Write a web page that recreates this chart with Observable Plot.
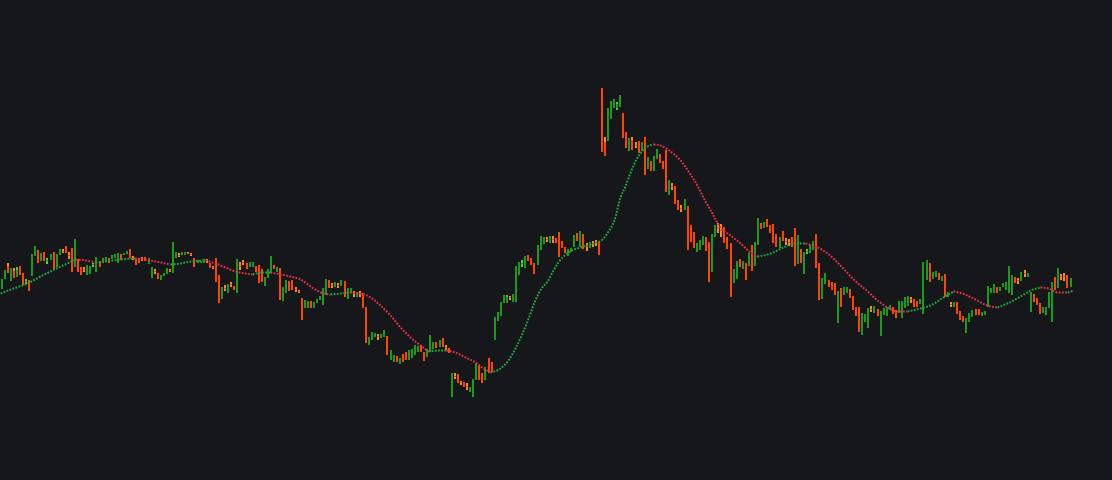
<!DOCTYPE html>
<html><head><meta charset="utf-8">
<script src="https://cdn.jsdelivr.net/npm/d3@7"></script>
<script src="https://cdn.jsdelivr.net/npm/@observablehq/plot@0.6"></script>
<style>html,body{margin:0;padding:0;background:#16171b;overflow:hidden}</style>
</head><body><div id="chart"></div>
<script>
const open = [
191,201,214,199,209,203,214,207,198,200,
204,224,230,219,228,219,220,228,213,225,
229,234,225,232,213,221,213,211,205,206,
215,208,219,217,219,222,221,222,217,226,
225,226,231,222,222,222,222,223,216,202,
209,207,200,204,206,210,207,222,225,225,
225,227,226,222,217,217,217,220,217,213,
222,205,181,192,187,196,194,187,214,218,
217,213,213,214,215,211,194,202,207,215,
208,212,179,187,199,200,191,189,182,172,
172,179,172,177,180,175,185,200,195,193,
195,194,199,181,187,187,183,187,187,173,
135,140,143,144,142,143,144,120,118,124,
116,126,128,120,122,125,128,135,128,123,
128,131,138,133,142,133,132,83,104,106,
98,98,94,88,83,100,114,107,100,122,
118,140,159,164,177,177,183,178,178,205,
216,212,225,222,217,215,230,236,241,237,
241,242,248,239,233,224,228,233,247,233,
246,234,232,237,238,238,392,338,339,361,
372,372,373,367,348,329,340,335,339,329,
343,311,319,309,321,326,319,330,285,294,
294,280,272,270,274,255,248,228,230,235,
243,238,208,243,253,250,253,243,237,197,
201,221,211,217,214,235,214,235,257,252,
261,255,256,246,232,249,239,238,243,252,
216,231,206,228,227,230,246,217,181,196,
200,198,197,157,192,185,187,191,184,173,
173,145,158,152,171,167,171,144,165,164,
170,173,170,167,162,172,174,181,181,179,
176,166,200,217,201,203,207,199,206,183,
176,173,178,169,164,147,158,163,171,171,
164,165,173,187,187,193,189,193,190,187,
185,203,200,199,207,203,168,186,182,177,
167,165,172,158,203,192,204,204,205,193];
const high = [
201,210,217,212,212,213,214,207,201,200,
226,234,230,227,228,222,226,228,226,231,
231,234,228,232,241,221,213,213,215,214,
217,223,219,222,223,222,225,226,227,226,
227,229,231,224,222,222,223,223,222,213,
211,207,205,207,212,211,238,228,227,228,
228,228,227,222,220,219,221,221,217,214,
222,205,193,195,196,198,194,221,218,220,
217,218,218,214,215,211,203,211,224,215,
213,212,193,200,199,200,193,190,182,180,
179,179,178,181,184,192,201,200,197,198,
197,200,199,192,192,189,188,189,187,173,
143,148,147,146,146,150,144,130,125,124,
122,126,128,130,131,135,134,135,128,131,
145,138,138,140,142,135,132,107,107,106,
99,98,97,93,101,117,114,107,113,122,
118,163,168,178,185,185,184,186,214,218,
220,224,225,222,217,235,244,243,243,244,
244,242,248,239,233,231,232,245,247,249,
246,237,238,239,240,238,392,343,372,379,
381,378,385,367,348,342,343,338,339,338,
343,323,319,324,331,326,319,330,300,297,
294,280,275,281,274,255,248,237,240,244,
243,238,246,255,257,256,253,243,237,211,
219,221,219,217,227,235,238,262,257,258,
261,255,256,246,243,249,242,241,243,252,
245,231,228,231,235,239,246,217,202,207,
200,198,197,189,192,193,193,191,184,173,
173,167,166,172,174,174,171,169,172,173,
175,173,170,179,179,183,184,183,181,179,
181,218,220,217,208,209,207,204,206,188,
178,178,178,169,164,162,167,170,171,171,
168,169,194,192,196,193,193,197,198,214,
205,203,202,208,210,207,188,186,182,177,
173,173,188,198,203,212,206,207,205,202];
const low = [
191,201,207,199,202,203,205,195,196,189,
204,224,217,219,219,216,220,211,213,225,
227,227,221,208,213,208,205,208,205,206,
213,208,213,217,219,217,221,222,217,220,
225,226,222,220,215,217,219,219,216,202,
206,201,200,204,206,208,207,222,223,225,
225,226,224,213,217,217,217,217,212,211,
198,177,181,189,187,193,190,187,210,215,
211,213,213,208,197,198,194,202,207,211,
208,180,179,187,189,190,188,187,160,172,
172,172,172,177,180,175,185,192,192,193,
192,194,183,181,187,183,183,183,172,137,
135,140,143,140,142,143,125,120,118,118,
116,118,120,120,122,125,128,128,119,123,
128,131,132,133,133,130,127,83,101,97,
95,93,90,88,83,100,100,97,100,107,
108,140,159,164,177,177,180,178,178,205,
213,212,219,215,206,215,230,236,238,237,
237,237,223,232,227,224,228,233,239,233,
231,229,232,233,234,225,328,324,339,361,
372,370,373,342,332,329,330,332,327,329,
305,311,309,309,321,317,311,288,285,290,
276,270,268,270,230,238,232,228,230,235,
229,198,208,243,247,243,237,231,183,197,
201,213,211,200,214,209,214,235,251,252,
253,247,237,233,232,239,235,234,233,214,
216,217,206,226,227,230,212,180,181,196,
193,190,185,157,173,185,187,182,170,164,
148,145,158,152,168,167,164,144,165,164,
170,166,162,167,162,172,174,177,173,173,
176,166,200,198,201,203,200,199,183,183,
173,173,166,160,158,147,158,163,165,165,
164,165,173,187,187,187,189,193,190,187,
185,197,196,199,203,203,168,178,175,166,
167,165,172,158,190,192,200,199,192,193];
const close = [
201,210,207,212,202,210,205,195,199,189,
226,234,217,227,219,220,226,211,226,231,
228,227,224,208,241,208,205,210,215,214,
216,223,213,222,223,217,225,226,227,220,
227,229,222,221,215,217,221,219,222,213,
208,201,205,207,212,209,238,228,224,228,
228,226,225,213,220,219,221,219,212,212,
198,177,193,191,196,195,190,221,213,217,
211,218,218,208,197,198,203,211,224,211,
213,180,193,200,189,190,190,188,160,180,
179,172,178,181,184,192,201,192,194,198,
194,200,183,192,192,186,188,186,172,137,
143,148,147,143,146,150,125,130,125,118,
122,118,120,130,131,135,134,128,119,131,
145,138,132,140,133,132,127,107,103,97,
97,93,93,93,101,117,100,97,113,107,
108,163,168,178,185,183,182,186,214,218,
217,224,219,215,206,235,244,243,240,244,
240,237,223,232,227,231,232,245,239,249,
231,233,238,236,237,225,328,324,372,379,
381,376,385,342,332,342,330,334,327,338,
305,323,309,324,331,317,311,288,300,293,
276,270,271,281,230,238,232,237,240,244,
229,198,246,255,252,249,237,231,183,211,
219,213,219,200,227,209,238,262,251,258,
253,247,237,233,243,239,238,237,233,214,
245,217,228,229,235,239,212,180,202,207,
193,190,185,189,173,193,193,182,170,164,
148,167,166,172,170,174,164,169,172,173,
175,166,162,179,179,183,184,180,173,173,
181,218,220,198,208,209,200,204,183,188,
175,178,166,160,158,162,167,170,165,165,
168,169,194,192,196,187,193,197,198,214,
205,197,199,208,206,207,188,178,175,166,
173,173,188,198,190,212,203,203,192,202];

// moving average: position in bar units, value in price units
const maIndex = [-0.3,3.9,8.5,12.7,16.0,19.3,21.5,24.2,27.4,30.7,34.0,38.9,43.7,48.6,51.9,55.2,58.4,61.7,66.6,69.9,73.1,76.4,79.7,82.0,85.2,87.8,91.1,94.4,97.6,101.9,105.1,107.4,110.7,113.9,117.2,120.5,123.7,127.0,130.3,133.5,136.8,139.4,142.7,145.3,148.2,151.5,154.8,157.4,159.6,162.9,165.5,167.8,170.1,172.1,174.3,176.3,178.3,180.2,181.8,185.1,189.0,193.3,196.2,198.2,200.1,202.1,203.7,205.4,207.3,209.3,210.9,212.9,215.1,218.4,221.7,224.3,227.2,229.5,232.1,234.7,238.0,241.3,244.5,246.8,251.1,255.3,259.2,262.5,265.8,269.7,273.9,278.2,282.8,286.4,289.3,292.5,295.8,300.0,303.3,307.5,310.8,313.7,317.3,321.9,325.2,328.4,332.7,336.0,339.2,341.9,344.8,348.1,350.1];
const maValue = [187,192,197,204,209,214,217,221,220,218,219,221,222,220,218,216,217,219,220,217,213,209,207,206,208,208,206,204,201,192,187,186,187,188,187,183,175,165,153,143,135,129,130,130,128,123,118,112,108,112,120,132,147,162,180,192,199,210,218,228,233,237,241,249,260,283,294,308,321,330,334,336,335,329,320,309,295,281,267,253,245,237,228,224,227,233,237,237,234,227,215,201,189,179,173,169,169,172,175,183,189,187,182,175,173,177,184,190,193,192,188,188,190];

const UP_BODY = "#1b9b1b", UP_WICK = "#3bd83b";
const DN_BODY = "#ff4500", DN_WICK = "#ff8a1c";
const MA_UP = "#1fa83a", MA_DN = "#e0304a";

const bars = open.map((o, i) => ({i, open: o, high: high[i], low: low[i], close: close[i], up: close[i] >= o}));

// split MA into runs of rising / falling
const maRows = [];
let run = 0, prevUp = null;
for (let k = 0; k < maIndex.length - 1; k++) {
  let up = maValue[k + 1] > maValue[k] ? true : maValue[k + 1] < maValue[k] ? false : (prevUp === null ? true : prevUp);
  if (up !== prevUp) {
    run++;
    maRows.push({i: maIndex[k], v: maValue[k], run, up});
  }
  maRows.push({i: maIndex[k + 1], v: maValue[k + 1], run, up});
  prevUp = up;
}

const maStyle = {x: "i", y: "v", z: "run", strokeWidth: 2, strokeDasharray: "1.8,1.4", strokeLinecap: "butt", curve: "monotone-x"};

const chart = Plot.plot({
  width: 1112,
  height: 480,
  margin: 0,
  style: {background: "#16171b"},
  x: {domain: [0, 349], range: [1, 1070], axis: null},
  y: {domain: [0, 480], range: [480, 0], axis: null},
  marks: [
    Plot.ruleX(bars, {x: "i", y1: "low", y2: "high", stroke: d => d.up ? UP_WICK : DN_WICK, strokeWidth: 2, shapeRendering: "crispEdges"}),
    Plot.ruleX(bars, {x: "i", y1: "open", y2: "close", stroke: d => d.up ? UP_BODY : DN_BODY, strokeWidth: 2, shapeRendering: "crispEdges"}),
    Plot.line(maRows.filter(d => d.up), {...maStyle, stroke: MA_UP}),
    Plot.line(maRows.filter(d => !d.up), {...maStyle, stroke: MA_DN})
  ]
});
document.getElementById("chart").append(chart);
</script>
</body></html>
